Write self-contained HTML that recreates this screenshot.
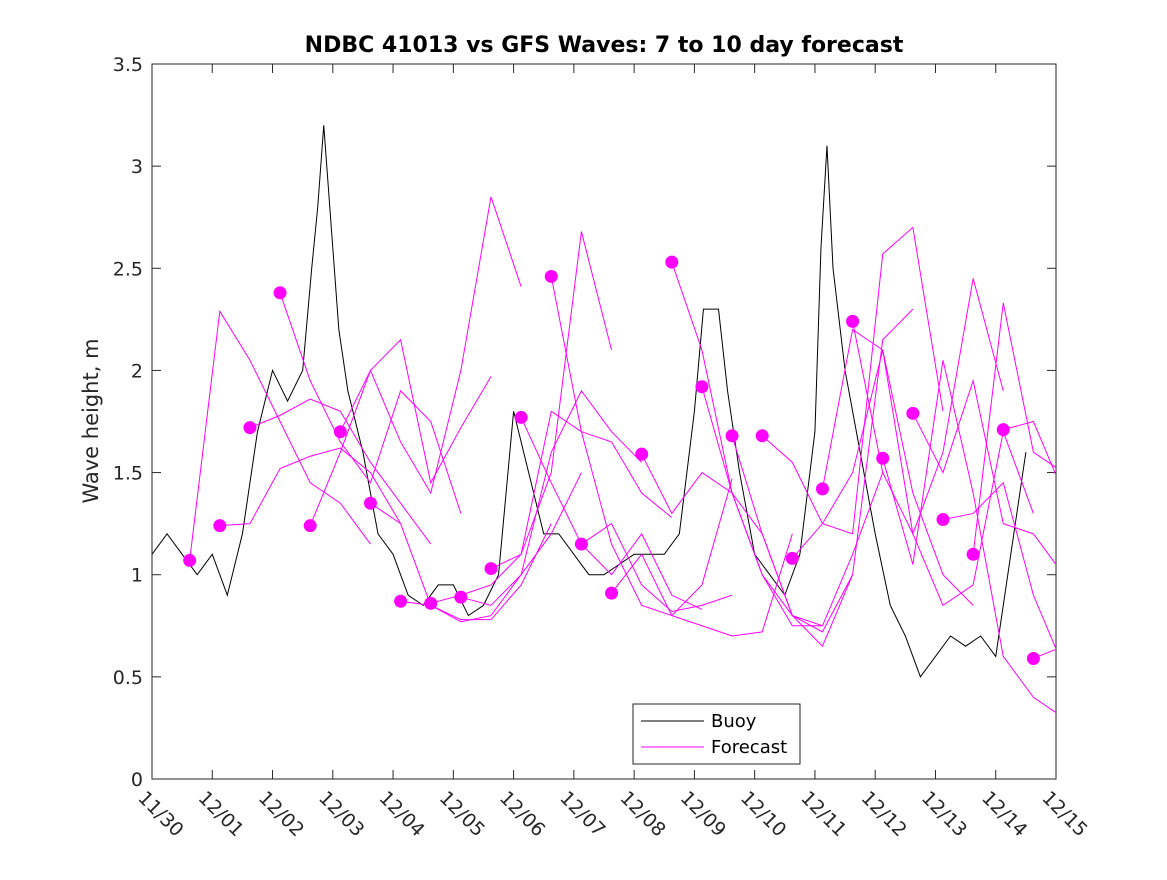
<!DOCTYPE html>
<html><head><meta charset="utf-8"><style>
body{margin:0;background:#fff;}
svg text{font-family:"DejaVu Sans","Liberation Sans",sans-serif;}
</style></head><body>
<svg id="chart" width="1167" height="875" xmlns="http://www.w3.org/2000/svg">
<defs><clipPath id="pa"><rect x="152" y="64" width="904" height="715"/></clipPath></defs>
<rect width="1167" height="875" fill="#fff"/>
<rect x="152" y="64" width="904" height="715" fill="#fff" stroke="#262626" stroke-width="1"/>
<text x="604" y="52" text-anchor="middle" font-size="22" font-weight="bold" fill="#000">NDBC 41013 vs GFS Waves: 7 to 10 day forecast</text>
<text transform="translate(98,421) rotate(-90)" text-anchor="middle" font-size="21" fill="#262626">Wave height, m</text>
<g id="axes"></g>
<g id="series" clip-path="url(#pa)"></g>
<g id="dots"></g>
<g>
<rect x="633" y="704" width="167" height="60" fill="#fff" stroke="#262626"/>
<line x1="641" y1="721" x2="704" y2="721" stroke="#000"/>
<text x="711" y="727" font-size="18" fill="#000">Buoy</text>
<line x1="641" y1="747" x2="704" y2="747" stroke="#f0f"/>
<text x="711" y="753" font-size="18" fill="#000">Forecast</text>
</g>
</svg>
<script>
const xTickLabels=["11/30","12/01","12/02","12/03","12/04","12/05","12/06","12/07","12/08","12/09","12/10","12/11","12/12","12/13","12/14","12/15"];
const yTicks=[0,0.5,1,1.5,2,2.5,3,3.5];
const buoyDays=[0,0.25,0.5,0.75,1.0,1.25,1.5,1.75,2.0,2.25,2.5,2.65,2.75,2.85,2.95,3.1,3.25,3.5,3.75,4.0,4.25,4.5,4.75,5.0,5.25,5.5,5.75,6.0,6.25,6.5,6.75,7.0,7.25,7.5,7.75,8.0,8.25,8.5,8.75,9.0,9.15,9.4,9.55,9.75,10.0,10.25,10.5,10.75,11.0,11.1,11.2,11.3,11.5,11.75,12.0,12.25,12.5,12.75,13.0,13.25,13.5,13.75,14.0,14.25,14.5];
const buoy=[1.1,1.2,1.1,1.0,1.1,0.9,1.2,1.7,2.0,1.85,2.0,2.5,2.8,3.2,2.8,2.2,1.9,1.6,1.2,1.1,0.9,0.85,0.95,0.95,0.8,0.85,1.0,1.8,1.5,1.2,1.2,1.1,1.0,1.0,1.05,1.1,1.1,1.1,1.2,1.8,2.3,2.3,1.9,1.5,1.1,1.0,0.9,1.1,1.7,2.6,3.1,2.5,2.0,1.6,1.2,0.85,0.7,0.5,0.6,0.7,0.65,0.7,0.6,1.1,1.6];
const dotValues=[1.07,1.24,1.72,2.38,1.24,1.70,1.35,0.87,0.86,0.89,1.03,1.77,2.46,1.15,0.91,1.59,2.53,1.92,1.68,1.68,1.08,1.42,2.24,1.57,1.79,1.27,1.10,1.71,0.59];
const fc0=[1.07,2.29,2.05,1.75,1.45,1.35,1.15];
const fc1=[1.24,1.25,1.52,1.58,1.62,1.5,1.25];
const fc2=[1.72,1.78,1.86,1.8,1.55,1.35,1.15];
const fc3=[2.38,1.95,1.65,1.45,1.9,1.75,1.3];
const fc4=[1.24,1.6,2.0,2.15,1.45,1.72,1.97];
const fc5=[1.70,2.0,1.65,1.4,2.0,2.85,2.41];
const fc6=[1.35,1.25,0.85,0.78,0.78,0.95,1.25];
const fc7=[0.87,0.85,0.77,0.8,1.0,1.2,1.5];
const fc8=[0.86,0.9,0.95,1.1,1.5,2.68,2.1];
const fc9=[0.89,0.85,1.0,1.6,1.9,1.7,1.55];
const fc10=[1.03,1.1,1.8,1.7,1.65,1.4,1.28];
const fc11=[1.77,1.45,1.15,1.0,1.2,0.9,0.83];
const fc12=[2.46,1.7,1.15,0.85,0.8,0.95,1.47];
const fc13=[1.15,1.25,0.95,0.82,0.85,0.9];
const fc14=[0.91,1.1,0.8,0.75,0.7,0.72,1.2];
const fc15=[1.59,1.3,1.5,1.4,1.2,0.8,0.75];
const fc16=[2.53,2.1,1.4,1.0,0.8,0.72,1.0];
const fc17=[1.92,1.4,1.0,0.75,0.75,1.1,1.5];
const fc18=[1.68,1.2,0.8,0.65,1.0,2.15,2.3];
const fc19=[1.68,1.55,1.25,1.2,2.57,2.7,1.8];
const fc20=[1.08,1.25,1.5,2.1,1.4,1.0,0.85];
const fc21=[1.42,2.2,2.1,1.2,1.6,2.45,1.9];
const fc22=[2.24,1.5,1.2,0.85,0.95,1.7,1.3];
const fc23=[1.57,1.05,2.05,1.4,0.6,0.4,0.3];
const fc24=[1.79,1.5,1.95,1.25,1.2,1.0,0.96];
const fc25=[1.27,1.3,1.45,0.9,0.55,0.5,1.75];
const fc26=[1.10,2.33,1.6,1.5,0.95,0.8,0.7];
const fc27=[1.71,1.75,1.4,1.0,0.6,0.55,0.5];
const fc28=[0.59,0.65,2.1,1.6,1.0,0.8,0.7];
const forecasts=[fc0,fc1,fc2,fc3,fc4,fc5,fc6,fc7,fc8,fc9,fc10,fc11,fc12,fc13,fc14,fc15,fc16,fc17,fc18,fc19,fc20,fc21,fc22,fc23,fc24,fc25,fc26,fc27,fc28];

const NS="http://www.w3.org/2000/svg";
const X0=152,X1=1056,Y0=779,Y1=64;
const xs=d=>X0+d*(X1-X0)/15;
const ys=v=>Y0-v*(Y0-Y1)/3.5;
const axes=document.getElementById('axes');
const series=document.getElementById('series');
const dots=document.getElementById('dots');
function mk(t,p,a){const e=document.createElementNS(NS,t);for(const k in a)e.setAttribute(k,a[k]);p.appendChild(e);return e;}
xTickLabels.forEach((l,i)=>{const x=xs(i);
 const t1=mk('line',axes,{x1:x,y1:Y0,x2:x,y2:Y0-9,stroke:'#262626'});
 
 
 mk('line',axes,{x1:x,y1:Y1,x2:x,y2:Y1+9,stroke:'#262626'});
 const t=mk('text',axes,{transform:`translate(${x-15},${Y0+20}) rotate(45)`,'font-size':19,fill:'#262626'});
 
 
 t.textContent=l;});
yTicks.forEach(v=>{const yy=ys(v);
 const t1=mk('line',axes,{x1:X0,y1:yy,x2:X0+9,y2:yy,stroke:'#262626'});
 
 
 mk('line',axes,{x1:X1,y1:yy,x2:X1-9,y2:yy,stroke:'#262626'});
 const t=mk('text',axes,{x:X0-9,y:yy+7,'text-anchor':'end','font-size':19,fill:'#262626'});
 
 
 t.textContent=String(v);});
const bd=buoy.map((v,i)=>(i?'L':'M')+xs(buoyDays[i])+' '+ys(v)).join('');
const bp=mk('path',series,{d:bd,fill:'none',stroke:'#000','stroke-width':1});


forecasts.forEach((f,k)=>{const t0=0.625+0.5*k;
 const p=mk('path',series,{d:f.map((v,j)=>(j?'L':'M')+xs(t0+0.5*j)+' '+ys(v)).join(''),fill:'none',stroke:'#f0f','stroke-width':1});
 
 });
dotValues.forEach((v,k)=>{const c=mk('circle',dots,{cx:xs(0.625+0.5*k),cy:ys(v),r:6.5,fill:'#f0f'});
 
 });
</script>
</body></html>
